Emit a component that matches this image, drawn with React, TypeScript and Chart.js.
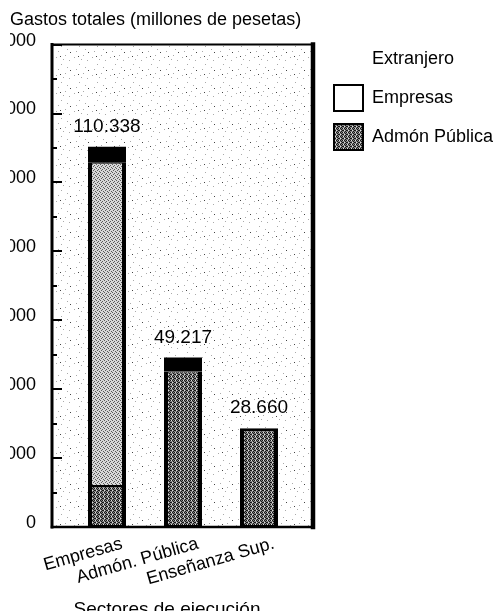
import React, { useEffect, useRef } from 'react';
import { Chart, registerables } from 'chart.js';

Chart.register(...registerables);

const FONT_FAMILY = '"Liberation Sans", Arial, Helvetica, sans-serif';

// ---- data ----
const categories = ['Empresas', 'Admón. Pública', 'Enseñanza Sup.'];
const admonPublicaValues = [11900, 45117, 28660];
const empresasValues = [93838, 0, 0];
const extranjeroValues = [4600, 4100, 0];
const seriesNames = ['Admón Pública', 'Empresas', 'Extranjero'];
const yMin = 0;
const yMax = 140000;
const yStep = 20000;
const yMinorStep = 10000;
const chartTitle = 'Gastos totales (millones de pesetas)';
const xAxisTitle = 'Sectores de ejecución';

const fmt = (v: number) => String(Math.round(v)).replace(/\B(?=(\d{3})+(?!\d))/g, '.');

function makePattern(size: number, draw: (g: CanvasRenderingContext2D) => void) {
  const c = document.createElement('canvas');
  c.width = size;
  c.height = size;
  const g = c.getContext('2d')!;
  draw(g);
  return g.createPattern(c, 'repeat')!;
}

export default function App() {
  const ref = useRef<HTMLCanvasElement>(null);

  useEffect(() => {
    const canvas = ref.current!;
    Chart.defaults.font.family = FONT_FAMILY;
    Chart.defaults.color = '#000';

    const bgPattern = makePattern(18, (g) => {
      g.fillStyle = '#ffffff';
      g.fillRect(0, 0, 18, 18);
      g.fillStyle = '#aaa';
      [[2, 3], [11, 1], [7, 10], [15, 6], [4, 15], [13, 13], [9, 5]].forEach(([x, y]) => g.fillRect(x, y, 1, 1));
      g.fillStyle = '#444';
      [[6, 2], [16, 16]].forEach(([x, y]) => g.fillRect(x, y, 1, 1));
    });
    const lightPattern = makePattern(4, (g) => {
      g.fillStyle = '#d8d8d8';
      g.fillRect(0, 0, 4, 4);
      g.fillStyle = '#5a5a5a';
      [[0, 0], [2, 1], [1, 2], [3, 3]].forEach(([x, y]) => g.fillRect(x, y, 1, 1));
    });
    const darkPattern = makePattern(4, (g) => {
      g.fillStyle = '#858585';
      g.fillRect(0, 0, 4, 4);
      g.fillStyle = '#151515';
      [[0, 0], [2, 0], [1, 1], [3, 2], [1, 3], [2, 2]].forEach(([x, y]) => g.fillRect(x, y, 1, 1));
      g.fillStyle = '#e0e0e0';
      [[3, 0], [0, 2]].forEach(([x, y]) => g.fillRect(x, y, 1, 1));
    });

    const series = [admonPublicaValues, empresasValues, extranjeroValues];
    const border = (level: number) => (ctx: any) => {
      const i = ctx.dataIndex;
      const isTop = series.slice(level + 1).every((s) => !s[i]);
      return { left: 4, right: 4, top: isTop ? 3 : 1, bottom: level === 0 ? 2 : 1 };
    };

    const decor = {
      id: 'decor',
      afterLayout(chart: any) {
        const lg = chart.legend;
        if (lg) {
          lg.left = 321;
          lg.top = 33;
          lg.right = 321 + lg.width;
          lg.bottom = 33 + 220;
          lg.height = 220;
        }
      },
      beforeDatasetsDraw(chart: any) {
        const { ctx, chartArea } = chart;
        const l = chartArea.left - 17;
        const r = chartArea.right + 16;
        ctx.save();
        ctx.fillStyle = bgPattern;
        ctx.fillRect(l, chartArea.top, r - l, chartArea.bottom - chartArea.top);
        ctx.restore();
      },
      afterDatasetsDraw(chart: any) {
        const { ctx, chartArea, scales } = chart;
        const y = scales.y;
        const l = chartArea.left - 17;
        const r = chartArea.right + 16;
        const t = chartArea.top;
        const b = chartArea.bottom;
        ctx.save();
        ctx.strokeStyle = '#000';
        ctx.lineCap = 'square';
        ctx.lineWidth = 2;
        ctx.beginPath();
        ctx.moveTo(l, t);
        ctx.lineTo(r, t);
        ctx.stroke();
        ctx.lineWidth = 2.5;
        ctx.beginPath();
        ctx.moveTo(l, b);
        ctx.lineTo(r, b);
        ctx.stroke();
        ctx.lineWidth = 3;
        ctx.beginPath();
        ctx.moveTo(l, t);
        ctx.lineTo(l, b);
        ctx.stroke();
        ctx.lineWidth = 4.5;
        ctx.beginPath();
        ctx.moveTo(r, t);
        ctx.lineTo(r, b);
        ctx.stroke();
        // tick marks
        ctx.lineCap = 'butt';
        ctx.lineWidth = 2;
        for (let v = yMin; v <= yMax; v += yMinorStep) {
          const py = Math.round(y.getPixelForValue(v));
          const major = v % yStep === 0;
          ctx.beginPath();
          ctx.moveTo(l, py);
          ctx.lineTo(l + (major ? 10 : 5), py);
          ctx.stroke();
        }
        // total labels
        ctx.fillStyle = '#000';
        ctx.font = `19px ${FONT_FAMILY}`;
        ctx.textAlign = 'center';
        ctx.textBaseline = 'middle';
        const meta = chart.getDatasetMeta(0);
        categories.forEach((_, i) => {
          const total = series.reduce((s, arr) => s + (arr[i] || 0), 0);
          const px = meta.data[i].x;
          const py = y.getPixelForValue(total) - 20;
          ctx.fillText(fmt(total), px, py);
        });
        // x axis title
        ctx.font = `19px ${FONT_FAMILY}`;
        ctx.fillText(xAxisTitle, chartArea.left + 98, 610);
        ctx.restore();
      },
    };

    const chart = new Chart(canvas, {
      type: 'bar',
      data: {
        labels: categories,
        datasets: [
          {
            label: seriesNames[0],
            data: admonPublicaValues,
            backgroundColor: darkPattern as any,
            borderColor: '#000',
            borderWidth: border(0) as any,
            borderSkipped: false,
            categoryPercentage: 1,
            barPercentage: 0.5,
          },
          {
            label: seriesNames[1],
            data: empresasValues,
            backgroundColor: lightPattern as any,
            borderColor: '#000',
            borderWidth: border(1) as any,
            borderSkipped: false,
            categoryPercentage: 1,
            barPercentage: 0.5,
          },
          {
            label: seriesNames[2],
            data: extranjeroValues,
            backgroundColor: '#000',
            borderColor: '#000',
            borderWidth: 0,
            borderSkipped: false,
            categoryPercentage: 1,
            barPercentage: 0.5,
          },
        ],
      },
      options: {
        responsive: false,
        animation: false,
        layout: { padding: { left: 10, right: 0, top: 0, bottom: 0 } },
        plugins: {
          tooltip: { enabled: false },
          title: {
            display: true,
            text: chartTitle,
            align: 'start',
            color: '#000',
            font: { size: 18, weight: 'normal' },
            padding: { top: 9, bottom: 14 },
          },
          legend: {
            position: 'chartArea',
            align: 'start',
            labels: {
              boxWidth: 29,
              boxHeight: 26,
              padding: 13,
              color: '#000',
              font: { size: 18 },
              generateLabels: () => [
                { text: seriesNames[2], fillStyle: 'rgba(0,0,0,0)', strokeStyle: 'rgba(0,0,0,0)', lineWidth: 0, datasetIndex: 2 },
                { text: seriesNames[1], fillStyle: '#ffffff', strokeStyle: '#000', lineWidth: 2, datasetIndex: 1 },
                { text: seriesNames[0], fillStyle: darkPattern as any, strokeStyle: '#000', lineWidth: 2, datasetIndex: 0 },
              ],
            },
          },
        },
        scales: {
          x: {
            stacked: true,
            offset: true,
            grid: { display: false, drawTicks: false },
            border: { display: false },
            ticks: {
              autoSkip: false,
              minRotation: 16,
              maxRotation: 16,
              labelOffset: 15,
              padding: 6,
              color: '#000',
              font: { size: 18 },
            },
            afterFit: (s: any) => {
              s.height = 84;
            },
          },
          y: {
            stacked: true,
            min: yMin,
            max: yMax,
            grid: { display: false, drawTicks: false },
            border: { display: false },
            ticks: {
              stepSize: yStep,
              padding: 33,
              labelOffset: -4,
              color: '#000',
              font: { size: 18 },
              callback: (v: any) => fmt(Number(v)),
            },
            afterFit: (s: any) => {
              s.width = 59;
            },
          },
          yPad: {
            type: 'linear',
            position: 'right',
            display: true,
            grid: { display: false, drawTicks: false },
            border: { display: false },
            ticks: { display: false },
            afterFit: (s: any) => {
              s.width = 207;
            },
          },
        },
      } as any,
      plugins: [decor],
    });

    return () => chart.destroy();
  }, []);

  return (
    <div style={{ position: 'absolute', left: 0, top: 0, width: 504, height: 611 }}>
      <canvas ref={ref} width={504} height={611} style={{ display: 'block', width: 504, height: 611 }} />
    </div>
  );
}
